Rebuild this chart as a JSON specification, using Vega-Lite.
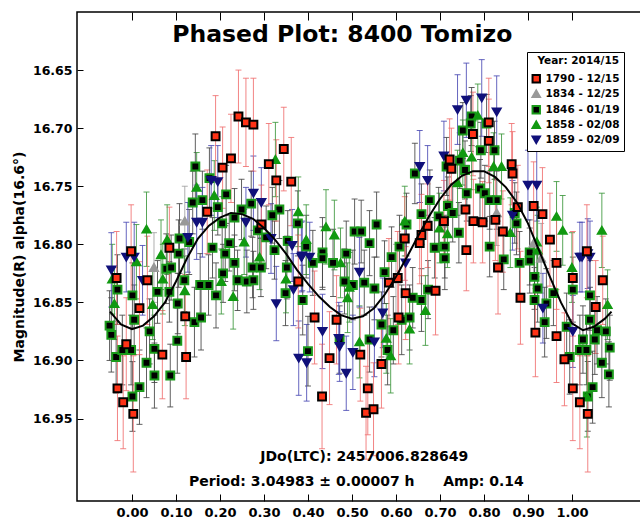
{
 "$schema": "https://vega.github.io/schema/vega-lite/v6.json",
 "width": 564, "height": 489,
 "autosize": "none",
 "padding": {"left": 77, "top": 12, "right": 0, "bottom": 18},
 "background": "white",
 "config": {"view": {"stroke": "black", "strokeWidth": 1.5}, "font": "DejaVu Sans"},
 "datasets": {
  "obs": [
{"s":"1846 - 01/19","p":0.144,"m":16.733,"e":0.028},{"s":"1846 - 01/19","p":0.176,"m":16.743,"e":0.026},{"s":"1846 - 01/19","p":0.214,"m":16.757,"e":0.025},{"s":"1846 - 01/19","p":0.138,"m":16.764,"e":0.027},{"s":"1846 - 01/19","p":0.160,"m":16.762,"e":0.025},{"s":"1846 - 01/19","p":0.195,"m":16.768,"e":0.024},{"s":"1846 - 01/19","p":0.249,"m":16.770,"e":0.026},{"s":"1846 - 01/19","p":0.271,"m":16.765,"e":0.028},{"s":"1846 - 01/19","p":0.335,"m":16.770,"e":0.025},{"s":"1846 - 01/19","p":0.319,"m":16.775,"e":0.024},
{"s":"1846 - 01/19","p":0.205,"m":16.782,"e":0.023},{"s":"1846 - 01/19","p":0.233,"m":16.777,"e":0.025},{"s":"1846 - 01/19","p":0.286,"m":16.788,"e":0.026},{"s":"1846 - 01/19","p":0.305,"m":16.794,"e":0.027},{"s":"1846 - 01/19","p":0.108,"m":16.795,"e":0.030},{"s":"1846 - 01/19","p":0.130,"m":16.798,"e":0.028},{"s":"1846 - 01/19","p":0.183,"m":16.803,"e":0.026},{"s":"1846 - 01/19","p":0.221,"m":16.799,"e":0.024},{"s":"1846 - 01/19","p":0.377,"m":16.782,"e":0.028},{"s":"1846 - 01/19","p":0.354,"m":16.797,"e":0.026},
{"s":"1846 - 01/19","p":0.396,"m":16.802,"e":0.027},{"s":"1846 - 01/19","p":0.433,"m":16.807,"e":0.030},{"s":"1846 - 01/19","p":0.487,"m":16.808,"e":0.028},{"s":"1846 - 01/19","p":0.106,"m":16.808,"e":0.029},{"s":"1846 - 01/19","p":0.212,"m":16.808,"e":0.024},{"s":"1846 - 01/19","p":-0.051,"m":16.870,"e":0.030},{"s":"1846 - 01/19","p":-0.047,"m":16.878,"e":0.032},{"s":"1846 - 01/19","p":-0.033,"m":16.839,"e":0.030},{"s":"1846 - 01/19","p":0.001,"m":16.844,"e":0.028},{"s":"1846 - 01/19","p":0.005,"m":16.865,"e":0.030},
{"s":"1846 - 01/19","p":0.058,"m":16.841,"e":0.027},{"s":"1846 - 01/19","p":0.085,"m":16.841,"e":0.026},{"s":"1846 - 01/19","p":0.078,"m":16.821,"e":0.030},{"s":"1846 - 01/19","p":0.089,"m":16.820,"e":0.028},{"s":"1846 - 01/19","p":0.119,"m":16.831,"e":0.027},{"s":"1846 - 01/19","p":0.104,"m":16.851,"e":0.026},{"s":"1846 - 01/19","p":0.040,"m":16.875,"e":0.028},{"s":"1846 - 01/19","p":0.033,"m":16.902,"e":0.030},{"s":"1846 - 01/19","p":0.051,"m":16.913,"e":0.028},{"s":"1846 - 01/19","p":0.017,"m":16.923,"e":0.032},
{"s":"1846 - 01/19","p":0.001,"m":16.931,"e":0.030},{"s":"1846 - 01/19","p":0.087,"m":16.913,"e":0.027},{"s":"1846 - 01/19","p":0.103,"m":16.883,"e":0.028},{"s":"1846 - 01/19","p":0.051,"m":16.890,"e":0.029},{"s":"1846 - 01/19","p":-0.002,"m":16.891,"e":0.030},{"s":"1846 - 01/19","p":-0.036,"m":16.897,"e":0.031},{"s":"1846 - 01/19","p":-0.022,"m":16.891,"e":0.030},{"s":"1846 - 01/19","p":0.142,"m":16.867,"e":0.030},{"s":"1846 - 01/19","p":0.157,"m":16.863,"e":0.028},{"s":"1846 - 01/19","p":0.155,"m":16.835,"e":0.027},
{"s":"1846 - 01/19","p":0.174,"m":16.835,"e":0.026},{"s":"1846 - 01/19","p":0.191,"m":16.844,"e":0.028},{"s":"1846 - 01/19","p":0.207,"m":16.825,"e":0.025},{"s":"1846 - 01/19","p":0.240,"m":16.831,"e":0.026},{"s":"1846 - 01/19","p":0.261,"m":16.832,"e":0.027},{"s":"1846 - 01/19","p":0.276,"m":16.831,"e":0.025},{"s":"1846 - 01/19","p":0.274,"m":16.820,"e":0.026},{"s":"1846 - 01/19","p":0.293,"m":16.820,"e":0.025},{"s":"1846 - 01/19","p":0.233,"m":16.816,"e":0.024},{"s":"1846 - 01/19","p":0.324,"m":16.805,"e":0.025},
{"s":"1846 - 01/19","p":0.352,"m":16.820,"e":0.027},{"s":"1846 - 01/19","p":0.388,"m":16.848,"e":0.030},{"s":"1846 - 01/19","p":0.349,"m":16.842,"e":0.028},{"s":"1846 - 01/19","p":0.400,"m":16.892,"e":0.030},{"s":"1846 - 01/19","p":0.472,"m":16.882,"e":0.029},{"s":"1846 - 01/19","p":0.411,"m":16.816,"e":0.028},{"s":"1846 - 01/19","p":0.433,"m":16.812,"e":0.027},{"s":"1846 - 01/19","p":0.457,"m":16.816,"e":0.029},{"s":"1846 - 01/19","p":0.483,"m":16.832,"e":0.028},{"s":"1846 - 01/19","p":0.502,"m":16.835,"e":0.030},
{"s":"1846 - 01/19","p":0.528,"m":16.833,"e":0.028},{"s":"1846 - 01/19","p":0.551,"m":16.838,"e":0.027},{"s":"1846 - 01/19","p":0.574,"m":16.824,"e":0.027},{"s":"1846 - 01/19","p":0.638,"m":16.846,"e":0.026},{"s":"1846 - 01/19","p":0.658,"m":16.848,"e":0.027},{"s":"1846 - 01/19","p":0.673,"m":16.839,"e":0.025},{"s":"1846 - 01/19","p":0.631,"m":16.863,"e":0.028},{"s":"1846 - 01/19","p":0.613,"m":16.865,"e":0.030},{"s":"1846 - 01/19","p":0.594,"m":16.874,"e":0.029},{"s":"1846 - 01/19","p":0.567,"m":16.869,"e":0.028},
{"s":"1846 - 01/19","p":0.581,"m":16.891,"e":0.030},{"s":"1846 - 01/19","p":0.540,"m":16.882,"e":0.028},{"s":"1846 - 01/19","p":0.590,"m":16.811,"e":0.026},{"s":"1846 - 01/19","p":0.711,"m":16.812,"e":0.027},{"s":"1846 - 01/19","p":0.845,"m":16.813,"e":0.026},{"s":"1846 - 01/19","p":0.881,"m":16.816,"e":0.027},{"s":"1846 - 01/19","p":0.904,"m":16.814,"e":0.028},{"s":"1846 - 01/19","p":0.915,"m":16.828,"e":0.028},{"s":"1846 - 01/19","p":0.922,"m":16.838,"e":0.029},{"s":"1846 - 01/19","p":0.915,"m":16.848,"e":0.028},
{"s":"1846 - 01/19","p":0.942,"m":16.851,"e":0.030},{"s":"1846 - 01/19","p":0.958,"m":16.842,"e":0.028},{"s":"1846 - 01/19","p":1.002,"m":16.839,"e":0.028},{"s":"1846 - 01/19","p":1.041,"m":16.844,"e":0.030},{"s":"1846 - 01/19","p":1.041,"m":16.865,"e":0.028},{"s":"1846 - 01/19","p":1.057,"m":16.874,"e":0.029},{"s":"1846 - 01/19","p":1.077,"m":16.875,"e":0.028},{"s":"1846 - 01/19","p":0.938,"m":16.867,"e":0.030},{"s":"1846 - 01/19","p":0.988,"m":16.871,"e":0.029},{"s":"1846 - 01/19","p":1.052,"m":16.882,"e":0.030},
{"s":"1846 - 01/19","p":1.086,"m":16.889,"e":0.028},{"s":"1846 - 01/19","p":1.068,"m":16.902,"e":0.030},{"s":"1846 - 01/19","p":1.084,"m":16.912,"e":0.028},{"s":"1846 - 01/19","p":1.047,"m":16.923,"e":0.031},{"s":"1846 - 01/19","p":1.036,"m":16.931,"e":0.030},{"s":"1846 - 01/19","p":0.995,"m":16.897,"e":0.032},{"s":"1846 - 01/19","p":1.018,"m":16.891,"e":0.030},{"s":"1846 - 01/19","p":1.033,"m":16.891,"e":0.030},{"s":"1846 - 01/19","p":1.025,"m":16.882,"e":0.029},{"s":"1846 - 01/19","p":0.752,"m":16.702,"e":0.024},
{"s":"1846 - 01/19","p":0.772,"m":16.690,"e":0.025},{"s":"1846 - 01/19","p":0.770,"m":16.696,"e":0.024},{"s":"1846 - 01/19","p":0.806,"m":16.696,"e":0.025},{"s":"1846 - 01/19","p":0.824,"m":16.719,"e":0.025},{"s":"1846 - 01/19","p":0.793,"m":16.719,"e":0.024},{"s":"1846 - 01/19","p":0.643,"m":16.739,"e":0.026},{"s":"1846 - 01/19","p":0.715,"m":16.733,"e":0.025},{"s":"1846 - 01/19","p":0.745,"m":16.728,"e":0.024},{"s":"1846 - 01/19","p":0.757,"m":16.736,"e":0.025},{"s":"1846 - 01/19","p":0.677,"m":16.762,"e":0.026},
{"s":"1846 - 01/19","p":0.718,"m":16.767,"e":0.025},{"s":"1846 - 01/19","p":0.761,"m":16.756,"e":0.024},{"s":"1846 - 01/19","p":0.791,"m":16.752,"e":0.025},{"s":"1846 - 01/19","p":0.802,"m":16.756,"e":0.024},{"s":"1846 - 01/19","p":0.829,"m":16.762,"e":0.025},{"s":"1846 - 01/19","p":0.813,"m":16.762,"e":0.025},{"s":"1846 - 01/19","p":0.658,"m":16.774,"e":0.026},{"s":"1846 - 01/19","p":0.697,"m":16.776,"e":0.025},{"s":"1846 - 01/19","p":0.729,"m":16.773,"e":0.025},{"s":"1846 - 01/19","p":0.743,"m":16.790,"e":0.026},
{"s":"1846 - 01/19","p":0.624,"m":16.783,"e":0.027},{"s":"1846 - 01/19","p":0.556,"m":16.783,"e":0.028},{"s":"1846 - 01/19","p":0.506,"m":16.789,"e":0.028},{"s":"1846 - 01/19","p":0.521,"m":16.789,"e":0.027},{"s":"1846 - 01/19","p":0.540,"m":16.799,"e":0.028},{"s":"1846 - 01/19","p":0.688,"m":16.803,"e":0.026},{"s":"1846 - 01/19","p":0.711,"m":16.802,"e":0.027},{"s":"1846 - 01/19","p":0.813,"m":16.802,"e":0.026},{"s":"1846 - 01/19","p":0.608,"m":16.802,"e":0.027},{"s":"1846 - 01/19","p":0.870,"m":16.773,"e":0.026},
{"s":"1846 - 01/19","p":0.874,"m":16.782,"e":0.027},{"s":"1846 - 01/19","p":0.904,"m":16.807,"e":0.028},
{"s":"1858 - 02/08","p":0.033,"m":16.787,"e":0.032},{"s":"1858 - 02/08","p":0.080,"m":16.796,"e":0.030},{"s":"1858 - 02/08","p":0.147,"m":16.751,"e":0.030},{"s":"1858 - 02/08","p":0.187,"m":16.758,"e":0.030},{"s":"1858 - 02/08","p":0.326,"m":16.727,"e":0.032},{"s":"1858 - 02/08","p":0.378,"m":16.772,"e":0.030},{"s":"1858 - 02/08","p":0.255,"m":16.798,"e":0.028},{"s":"1858 - 02/08","p":0.396,"m":16.796,"e":0.030},{"s":"1858 - 02/08","p":0.441,"m":16.785,"e":0.032},{"s":"1858 - 02/08","p":0.460,"m":16.792,"e":0.030},
{"s":"1858 - 02/08","p":0.066,"m":16.809,"e":0.030},{"s":"1858 - 02/08","p":0.070,"m":16.830,"e":0.030},{"s":"1858 - 02/08","p":0.047,"m":16.852,"e":0.030},{"s":"1858 - 02/08","p":0.203,"m":16.832,"e":0.028},{"s":"1858 - 02/08","p":0.290,"m":16.811,"e":0.028},{"s":"1858 - 02/08","p":0.474,"m":16.816,"e":0.030},{"s":"1858 - 02/08","p":0.490,"m":16.846,"e":0.030},{"s":"1858 - 02/08","p":-0.040,"m":16.851,"e":0.031},{"s":"1858 - 02/08","p":0.667,"m":16.857,"e":0.030},{"s":"1858 - 02/08","p":0.631,"m":16.873,"e":0.030},
{"s":"1858 - 02/08","p":0.588,"m":16.896,"e":0.032},{"s":"1858 - 02/08","p":0.578,"m":16.881,"e":0.030},{"s":"1858 - 02/08","p":0.517,"m":16.884,"e":0.031},{"s":"1858 - 02/08","p":0.494,"m":16.837,"e":0.030},{"s":"1858 - 02/08","p":0.922,"m":16.805,"e":0.030},{"s":"1858 - 02/08","p":1.081,"m":16.852,"e":0.030},{"s":"1858 - 02/08","p":1.034,"m":16.931,"e":0.035},{"s":"1858 - 02/08","p":0.752,"m":16.721,"e":0.028},{"s":"1858 - 02/08","p":0.772,"m":16.725,"e":0.028},{"s":"1858 - 02/08","p":0.786,"m":16.689,"e":0.027},
{"s":"1858 - 02/08","p":0.840,"m":16.733,"e":0.028},{"s":"1858 - 02/08","p":0.822,"m":16.733,"e":0.029},{"s":"1858 - 02/08","p":0.965,"m":16.776,"e":0.030},{"s":"1858 - 02/08","p":0.979,"m":16.788,"e":0.030},{"s":"1858 - 02/08","p":1.068,"m":16.788,"e":0.032},{"s":"1858 - 02/08","p":0.699,"m":16.786,"e":0.030},{"s":"1858 - 02/08","p":0.717,"m":16.791,"e":0.029},{"s":"1858 - 02/08","p":0.740,"m":16.747,"e":0.028},{"s":"1858 - 02/08","p":0.920,"m":16.798,"e":0.030},{"s":"1858 - 02/08","p":-0.045,"m":16.830,"e":0.030},
{"s":"1858 - 02/08","p":0.010,"m":16.815,"e":0.032},{"s":"1858 - 02/08","p":0.120,"m":16.840,"e":0.030},{"s":"1858 - 02/08","p":0.230,"m":16.845,"e":0.028},{"s":"1858 - 02/08","p":0.620,"m":16.780,"e":0.030},{"s":"1858 - 02/08","p":0.860,"m":16.790,"e":0.030},{"s":"1858 - 02/08","p":1.000,"m":16.820,"e":0.030},{"s":"1858 - 02/08","p":0.350,"m":16.830,"e":0.029},
{"s":"1859 - 02/09","p":-0.013,"m":16.811,"e":0.030},{"s":"1859 - 02/09","p":0.005,"m":16.811,"e":0.030},{"s":"1859 - 02/09","p":0.127,"m":16.794,"e":0.030},{"s":"1859 - 02/09","p":0.147,"m":16.781,"e":0.032},{"s":"1859 - 02/09","p":0.160,"m":16.781,"e":0.030},{"s":"1859 - 02/09","p":0.180,"m":16.745,"e":0.030},{"s":"1859 - 02/09","p":0.195,"m":16.746,"e":0.031},{"s":"1859 - 02/09","p":0.259,"m":16.781,"e":0.030},{"s":"1859 - 02/09","p":0.276,"m":16.756,"e":0.032},{"s":"1859 - 02/09","p":0.294,"m":16.764,"e":0.030},
{"s":"1859 - 02/09","p":0.316,"m":16.795,"e":0.030},{"s":"1859 - 02/09","p":0.364,"m":16.801,"e":0.031},{"s":"1859 - 02/09","p":0.387,"m":16.810,"e":0.030},{"s":"1859 - 02/09","p":-0.047,"m":16.822,"e":0.032},{"s":"1859 - 02/09","p":0.024,"m":16.831,"e":0.030},{"s":"1859 - 02/09","p":0.328,"m":16.851,"e":0.032},{"s":"1859 - 02/09","p":0.367,"m":16.839,"e":0.031},{"s":"1859 - 02/09","p":0.379,"m":16.898,"e":0.032},{"s":"1859 - 02/09","p":0.397,"m":16.902,"e":0.033},{"s":"1859 - 02/09","p":0.433,"m":16.875,"e":0.032},
{"s":"1859 - 02/09","p":0.470,"m":16.881,"e":0.031},{"s":"1859 - 02/09","p":0.472,"m":16.888,"e":0.030},{"s":"1859 - 02/09","p":0.487,"m":16.911,"e":0.032},{"s":"1859 - 02/09","p":0.404,"m":16.811,"e":0.030},{"s":"1859 - 02/09","p":0.385,"m":16.811,"e":0.030},{"s":"1859 - 02/09","p":0.517,"m":16.824,"e":0.030},{"s":"1859 - 02/09","p":0.622,"m":16.816,"e":0.030},{"s":"1859 - 02/09","p":0.934,"m":16.855,"e":0.030},{"s":"1859 - 02/09","p":1.002,"m":16.875,"e":0.031},{"s":"1859 - 02/09","p":1.018,"m":16.811,"e":0.030},
{"s":"1859 - 02/09","p":1.036,"m":16.808,"e":0.030},{"s":"1859 - 02/09","p":0.502,"m":16.893,"e":0.032},{"s":"1859 - 02/09","p":0.551,"m":16.884,"e":0.030},{"s":"1859 - 02/09","p":0.570,"m":16.859,"e":0.030},{"s":"1859 - 02/09","p":0.654,"m":16.733,"e":0.031},{"s":"1859 - 02/09","p":0.672,"m":16.745,"e":0.030},{"s":"1859 - 02/09","p":0.709,"m":16.724,"e":0.030},{"s":"1859 - 02/09","p":0.740,"m":16.684,"e":0.030},{"s":"1859 - 02/09","p":0.760,"m":16.676,"e":0.032},{"s":"1859 - 02/09","p":0.795,"m":16.674,"e":0.033},
{"s":"1859 - 02/09","p":0.829,"m":16.686,"e":0.031},{"s":"1859 - 02/09","p":0.900,"m":16.749,"e":0.030},{"s":"1859 - 02/09","p":0.920,"m":16.749,"e":0.031},{"s":"1859 - 02/09","p":1.023,"m":16.811,"e":0.030},{"s":"1859 - 02/09","p":1.041,"m":16.811,"e":0.031},{"s":"1859 - 02/09","p":0.865,"m":16.775,"e":0.030},
{"s":"1834 - 12/25","p":0.913,"m":16.799,"e":0.028},{"s":"1834 - 12/25","p":0.829,"m":16.773,"e":0.028},{"s":"1834 - 12/25","p":0.930,"m":16.812,"e":0.030},{"s":"1834 - 12/25","p":0.120,"m":16.780,"e":0.030},{"s":"1834 - 12/25","p":0.050,"m":16.820,"e":0.030},{"s":"1834 - 12/25","p":0.600,"m":16.830,"e":0.030},
{"s":"1790 - 12/15","p":-0.002,"m":16.806,"e":0.040},{"s":"1790 - 12/15","p":0.085,"m":16.803,"e":0.035},{"s":"1790 - 12/15","p":0.190,"m":16.707,"e":0.035},{"s":"1790 - 12/15","p":0.206,"m":16.734,"e":0.035},{"s":"1790 - 12/15","p":0.225,"m":16.726,"e":0.038},{"s":"1790 - 12/15","p":0.242,"m":16.690,"e":0.040},{"s":"1790 - 12/15","p":0.259,"m":16.695,"e":0.038},{"s":"1790 - 12/15","p":0.276,"m":16.697,"e":0.040},{"s":"1790 - 12/15","p":0.311,"m":16.731,"e":0.035},{"s":"1790 - 12/15","p":0.328,"m":16.745,"e":0.035},
{"s":"1790 - 12/15","p":0.345,"m":16.718,"e":0.036},{"s":"1790 - 12/15","p":0.362,"m":16.746,"e":0.038},{"s":"1790 - 12/15","p":0.171,"m":16.772,"e":0.036},{"s":"1790 - 12/15","p":0.294,"m":16.783,"e":0.034},{"s":"1790 - 12/15","p":-0.035,"m":16.829,"e":0.040},{"s":"1790 - 12/15","p":0.035,"m":16.831,"e":0.038},{"s":"1790 - 12/15","p":0.017,"m":16.855,"e":0.040},{"s":"1790 - 12/15","p":0.121,"m":16.862,"e":0.036},{"s":"1790 - 12/15","p":-0.013,"m":16.886,"e":0.040},{"s":"1790 - 12/15","p":0.069,"m":16.895,"e":0.038},
{"s":"1790 - 12/15","p":0.123,"m":16.897,"e":0.036},{"s":"1790 - 12/15","p":-0.033,"m":16.924,"e":0.045},{"s":"1790 - 12/15","p":-0.020,"m":16.936,"e":0.040},{"s":"1790 - 12/15","p":0.003,"m":16.946,"e":0.050},{"s":"1790 - 12/15","p":0.378,"m":16.832,"e":0.040},{"s":"1790 - 12/15","p":0.415,"m":16.863,"e":0.040},{"s":"1790 - 12/15","p":0.465,"m":16.865,"e":0.038},{"s":"1790 - 12/15","p":0.449,"m":16.898,"e":0.040},{"s":"1790 - 12/15","p":0.432,"m":16.931,"e":0.045},{"s":"1790 - 12/15","p":0.760,"m":16.805,"e":0.035},
{"s":"1790 - 12/15","p":0.832,"m":16.820,"e":0.040},{"s":"1790 - 12/15","p":0.883,"m":16.846,"e":0.040},{"s":"1790 - 12/15","p":0.917,"m":16.876,"e":0.038},{"s":"1790 - 12/15","p":0.965,"m":16.879,"e":0.040},{"s":"1790 - 12/15","p":1.002,"m":16.829,"e":0.040},{"s":"1790 - 12/15","p":1.070,"m":16.831,"e":0.038},{"s":"1790 - 12/15","p":1.054,"m":16.854,"e":0.040},{"s":"1790 - 12/15","p":0.983,"m":16.899,"e":0.040},{"s":"1790 - 12/15","p":1.002,"m":16.924,"e":0.045},{"s":"1790 - 12/15","p":1.018,"m":16.936,"e":0.040},
{"s":"1790 - 12/15","p":1.036,"m":16.946,"e":0.050},{"s":"1790 - 12/15","p":0.604,"m":16.829,"e":0.040},{"s":"1790 - 12/15","p":0.584,"m":16.833,"e":0.038},{"s":"1790 - 12/15","p":0.622,"m":16.842,"e":0.040},{"s":"1790 - 12/15","p":0.690,"m":16.840,"e":0.038},{"s":"1790 - 12/15","p":0.606,"m":16.863,"e":0.040},{"s":"1790 - 12/15","p":0.519,"m":16.895,"e":0.040},{"s":"1790 - 12/15","p":0.567,"m":16.903,"e":0.038},{"s":"1790 - 12/15","p":0.536,"m":16.924,"e":0.040},{"s":"1790 - 12/15","p":0.532,"m":16.945,"e":0.040},
{"s":"1790 - 12/15","p":0.549,"m":16.942,"e":0.040},{"s":"1790 - 12/15","p":0.965,"m":16.816,"e":0.040},{"s":"1790 - 12/15","p":1.034,"m":16.806,"e":0.040},{"s":"1790 - 12/15","p":0.722,"m":16.727,"e":0.035},{"s":"1790 - 12/15","p":0.726,"m":16.735,"e":0.035},{"s":"1790 - 12/15","p":0.775,"m":16.705,"e":0.036},{"s":"1790 - 12/15","p":0.811,"m":16.695,"e":0.038},{"s":"1790 - 12/15","p":0.811,"m":16.711,"e":0.036},{"s":"1790 - 12/15","p":0.863,"m":16.731,"e":0.035},{"s":"1790 - 12/15","p":0.865,"m":16.739,"e":0.036},
{"s":"1790 - 12/15","p":0.913,"m":16.767,"e":0.038},{"s":"1790 - 12/15","p":0.933,"m":16.774,"e":0.040},{"s":"1790 - 12/15","p":0.758,"m":16.770,"e":0.035},{"s":"1790 - 12/15","p":0.776,"m":16.780,"e":0.036},{"s":"1790 - 12/15","p":0.797,"m":16.781,"e":0.035},{"s":"1790 - 12/15","p":0.826,"m":16.779,"e":0.035},{"s":"1790 - 12/15","p":0.843,"m":16.789,"e":0.035},{"s":"1790 - 12/15","p":0.709,"m":16.780,"e":0.035},{"s":"1790 - 12/15","p":0.672,"m":16.784,"e":0.036},{"s":"1790 - 12/15","p":0.658,"m":16.792,"e":0.035},
{"s":"1790 - 12/15","p":0.654,"m":16.799,"e":0.035},{"s":"1790 - 12/15","p":0.620,"m":16.795,"e":0.036},{"s":"1790 - 12/15","p":0.877,"m":16.768,"e":0.036},{"s":"1790 - 12/15","p":0.950,"m":16.796,"e":0.040}
  ],
  "fit": [
{"p":-0.05,"m":16.858},{"p":-0.025,"m":16.869},{"p":0.0,"m":16.873},{"p":0.025,"m":16.870},{"p":0.05,"m":16.862},{"p":0.075,"m":16.850},{"p":0.1,"m":16.832},{"p":0.125,"m":16.812},{"p":0.15,"m":16.795},{"p":0.175,"m":16.784},{"p":0.2,"m":16.777},{"p":0.225,"m":16.773},{"p":0.25,"m":16.774},{"p":0.275,"m":16.778},{"p":0.3,"m":16.786},{"p":0.325,"m":16.796},{"p":0.35,"m":16.808},{"p":0.375,"m":16.822},{"p":0.4,"m":16.834},{"p":0.425,"m":16.845},{"p":0.45,"m":16.854},{"p":0.475,"m":16.861},{"p":0.5,"m":16.864},{"p":0.525,"m":16.862},{"p":0.55,"m":16.855},{"p":0.575,"m":16.843},{"p":0.6,"m":16.828},{"p":0.625,"m":16.811},{"p":0.65,"m":16.793},{"p":0.675,"m":16.776},{"p":0.7,"m":16.761},{"p":0.725,"m":16.749},{"p":0.75,"m":16.741},{"p":0.775,"m":16.737},{"p":0.8,"m":16.737},{"p":0.825,"m":16.742},{"p":0.85,"m":16.751},{"p":0.875,"m":16.764},{"p":0.9,"m":16.782},{"p":0.925,"m":16.805},{"p":0.95,"m":16.828},{"p":0.975,"m":16.850},{"p":1.0,"m":16.868},{"p":1.025,"m":16.874},{"p":1.05,"m":16.871},{"p":1.075,"m":16.864},{"p":1.09,"m":16.858}
  ]
 },
 "resolve": {"axis": {"x": "independent", "y": "independent"}},
 "layer": [
  {
   "data": {"name": "obs"},
   "mark": {"type": "errorbar", "ticks": {"size": 6}, "thickness": 1, "opacity": 0.85},
   "encoding": {
    "x": {"field": "p", "type": "quantitative",
      "scale": {"domain": [-0.125, 1.157], "nice": false, "zero": false},
      "axis": {"orient": "bottom", "values": [0,0.1,0.2,0.3,0.4,0.5,0.6,0.7,0.8,0.9,1.0], "format": ".2f", "title": null, "grid": false, "domain": false, "offset": -7,
        "tickSize": 7, "tickColor": "black", "labelFontSize": 13, "labelFontWeight": "bold", "labelColor": "black", "labelPadding": 5, "labelFont": "DejaVu Sans"}},
    "y": {"field": "m", "type": "quantitative",
      "scale": {"domain": [16.6, 17.021], "reverse": true, "nice": false, "zero": false},
      "axis": {"values": [16.65,16.7,16.75,16.8,16.85,16.9,16.95], "format": ".2f", "title": "Magnitude(R) alpha(16.6°)", "grid": false, "domain": false, "offset": -6,
        "tickSize": 6, "tickColor": "black", "labelFontSize": 12.5, "labelFontWeight": "bold", "labelColor": "black", "labelPadding": 5, "labelFont": "DejaVu Sans",
        "titleFontSize": 14, "titleFontWeight": "bold", "titleColor": "black", "titlePadding": 6, "titleFont": "DejaVu Sans"}},
    "yError": {"field": "e"},
    "color": {"field": "s", "type": "nominal", "legend": null,
      "scale": {"domain": ["1859 - 02/09","1858 - 02/08","1846 - 01/19","1834 - 12/25","1790 - 12/15"], "range": ["#4a4ab4","#3c963c","#444444","#a0a0a0","#f07070"]}}
   }
  },
  {
   "data": {"name": "obs"},
   "mark": {"type": "point", "size": 62, "opacity": 1, "strokeWidth": 2},
   "encoding": {
    "x": {"field": "p", "type": "quantitative", "axis": null},
    "y": {"field": "m", "type": "quantitative", "axis": null},
    "fill": {"field": "s", "type": "nominal",
      "scale": {"domain": ["1790 - 12/15","1834 - 12/25","1846 - 01/19","1858 - 02/08","1859 - 02/09"], "range": ["#ff3216","#999999","#000000","#119911","#10107a"]},
      "legend": {"orient": "none", "legendX": 450, "legendY": 40, "title": "Year: 2014/15", "titleAnchor": "end", "fillColor": "white", "strokeColor": "black", "padding": 4, "titleFontSize": 10.5, "titleFontWeight": "bold", "titleColor": "black", "titleFont": "DejaVu Sans", "labelFontSize": 10.5, "labelFontWeight": "bold", "labelColor": "black", "labelFont": "DejaVu Sans", "symbolSize": 55, "symbolStrokeWidth": 2, "rowPadding": 0, "titlePadding": 7}},
    "stroke": {"field": "s", "type": "nominal",
      "scale": {"domain": ["1790 - 12/15","1834 - 12/25","1846 - 01/19","1858 - 02/08","1859 - 02/09"], "range": ["#000000","#999999","#1a9a1a","#119911","#10107a"]},
      "legend": {"orient": "none", "legendX": 450, "legendY": 40, "title": "Year: 2014/15"}},
    "shape": {"field": "s", "type": "nominal",
      "scale": {"domain": ["1790 - 12/15","1834 - 12/25","1846 - 01/19","1858 - 02/08","1859 - 02/09"], "range": ["square","triangle-up","square","triangle-up","triangle-down"]},
      "legend": {"orient": "none", "legendX": 450, "legendY": 40, "title": "Year: 2014/15"}}
   }
  },
  {
   "data": {"name": "fit"},
   "mark": {"type": "line", "color": "black", "strokeWidth": 2},
   "encoding": {
    "x": {"field": "p", "type": "quantitative",
      "axis": {"orient": "top", "values": [0,0.1,0.2,0.3,0.4,0.5,0.6,0.7,0.8,0.9,1.0], "labels": false, "title": null, "grid": false, "domain": false, "offset": -8, "tickSize": 8, "tickColor": "black"}},
    "y": {"field": "m", "type": "quantitative", "axis": null}
   }
  },
  {
   "data": {"values": [{"p": 0.478, "m": 16.62, "t": "Phased Plot: 8400 Tomizo"}]},
   "mark": {"type": "text", "fontSize": 23.5, "fontWeight": "bold", "font": "DejaVu Sans", "color": "black", "align": "center", "baseline": "middle"},
   "encoding": {
    "x": {"field": "p", "type": "quantitative", "axis": null},
    "y": {"field": "m", "type": "quantitative", "axis": null},
    "text": {"field": "t"}
   }
  },
  {
   "data": {"values": [
     {"p": 0.528, "m": 16.983, "t": "JDo(LTC): 2457006.828649"},
     {"p": 0.386, "m": 17.0046, "t": "Period: 3.04983 ± 0.00007 h"},
     {"p": 0.799, "m": 17.0046, "t": "Amp: 0.14"}
   ]},
   "mark": {"type": "text", "fontSize": 14, "fontWeight": "bold", "font": "DejaVu Sans", "color": "black", "align": "center", "baseline": "middle"},
   "encoding": {
    "x": {"field": "p", "type": "quantitative", "axis": null},
    "y": {"field": "m", "type": "quantitative", "axis": null},
    "text": {"field": "t"}
   }
  }
 ]
}
